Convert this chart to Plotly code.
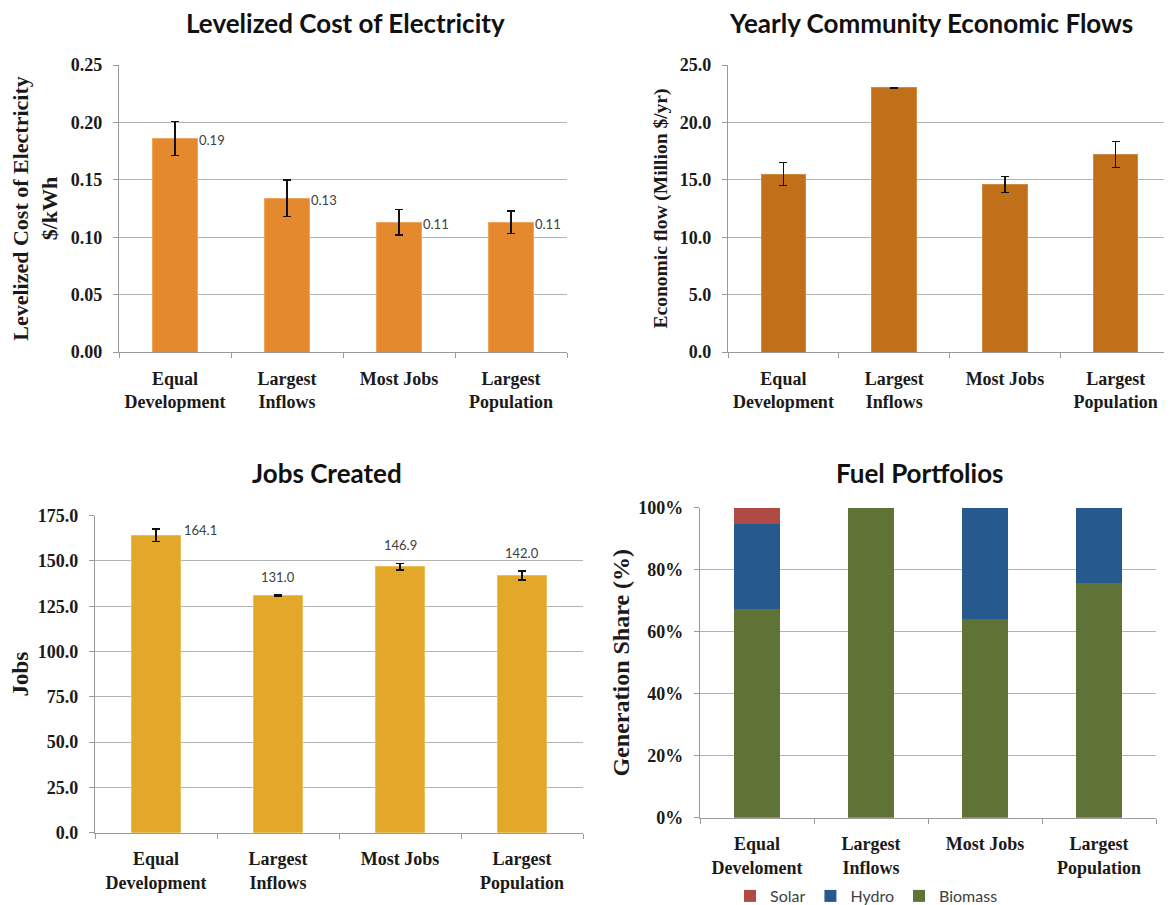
import plotly.graph_objects as go

# ---------------- data ----------------
categories = ["Equal Development", "Largest Inflows", "Most Jobs", "Largest Population"]
cat_text = ["Equal<br>Development", "Largest<br>Inflows", "Most Jobs", "Largest<br>Population"]
fuel_cat_text = ["Equal<br>Develoment", "Largest<br>Inflows", "Most Jobs", "Largest<br>Population"]

lcoe = [0.186, 0.134, 0.113, 0.113]
lcoe_err = [0.015, 0.016, 0.011, 0.010]

econ = [15.5, 23.0, 14.6, 17.2]
econ_err = [1.0, 0.05, 0.7, 1.15]

jobs = [164.1, 131.0, 146.9, 142.0]
jobs_err = [3.5, 0.3, 1.8, 2.4]

biomass = [0.672, 1.0, 0.64, 0.756]
hydro = [0.275, 0.0, 0.36, 0.244]
solar = [0.053, 0.0, 0.0, 0.0]

# page body has an 8px default margin: the figure is drawn inside it
OFF = 8
W, H = 1172 - OFF, 905 - OFF

SERIF = "Liberation Serif"
SANS = "Lato"
TXT = "#1a1a1a"
GRID = "#b3b3b3"
AXL = "#9a9a9a"


def px_x(a, b):
    return [(a - OFF) / W, (b - OFF) / W]


def px_y(top, bottom):
    return [1 - (bottom - OFF) / H, 1 - (top - OFF) / H]


fig = go.Figure()

err_style = dict(type="data", color="#111111", thickness=1.4, width=4, visible=True)

fig.add_trace(go.Bar(x=categories, y=lcoe, width=0.4, marker_color="#E5892F",
                     marker_line=dict(color="#EFA560", width=1),
                     error_y=dict(array=lcoe_err, **err_style),
                     xaxis="x", yaxis="y", showlegend=False))
fig.add_trace(go.Bar(x=categories, y=econ, width=0.4, marker_color="#C26F1A",
                     marker_line=dict(color="#D08A45", width=1),
                     error_y=dict(array=econ_err, **err_style),
                     xaxis="x2", yaxis="y2", showlegend=False))
fig.add_trace(go.Bar(x=categories, y=jobs, width=0.4, marker_color="#E3A82A",
                     marker_line=dict(color="#EDBE5C", width=1),
                     error_y=dict(array=jobs_err, **err_style),
                     xaxis="x3", yaxis="y3", showlegend=False))

fig.add_trace(go.Bar(x=categories, y=biomass, width=0.4, name="Biomass",
                     marker_color="#5E7335", marker_line=dict(width=0),
                     xaxis="x4", yaxis="y4"))
fig.add_trace(go.Bar(x=categories, y=hydro, width=0.4, name="Hydro",
                     marker_color="#265A8E", marker_line=dict(width=0),
                     xaxis="x4", yaxis="y4"))
fig.add_trace(go.Bar(x=categories, y=solar, width=0.4, name="Solar",
                     marker_color="#B04A44", marker_line=dict(width=0),
                     xaxis="x4", yaxis="y4"))

tickfont = dict(family=SERIF, size=18, color=TXT, weight="bold")


def xaxis(domain, anchor, texts):
    return dict(domain=domain, anchor=anchor, type="category",
                categoryorder="array", categoryarray=categories,
                tickvals=categories, ticktext=texts,
                tickson="boundaries", ticks="outside", ticklen=5, tickcolor=AXL,
                ticklabelstandoff=10,
                showline=True, linecolor=AXL, linewidth=1.2,
                showgrid=False, tickfont=tickfont, fixedrange=True, automargin=False)


def yaxis(domain, anchor, rng, dtick, fmt, title, tsize, standoff):
    return dict(domain=domain, anchor=anchor, range=rng, dtick=dtick, tickformat=fmt,
                ticks="outside", ticklen=5, tickcolor=AXL, ticklabelstandoff=7,
                showline=True, linecolor=AXL, linewidth=1.2,
                showgrid=True, gridcolor=GRID, gridwidth=1.2,
                zeroline=False, tickfont=tickfont, automargin=False,
                title=dict(text=title, standoff=standoff,
                           font=dict(family=SERIF, size=tsize, color=TXT, weight="bold")),
                fixedrange=True)


fig.update_layout(
    width=W, height=H,
    margin=dict(l=0, r=0, t=0, b=0, autoexpand=False),
    paper_bgcolor="white", plot_bgcolor="white",
    barmode="stack",
    xaxis=xaxis(px_x(119, 567), "y", cat_text),
    yaxis=yaxis(px_y(65, 352), "x", [0, 0.25], 0.05, ".2f",
                "Levelized Cost of Electricity<br>$/kWh", 22, 11),
    xaxis2=xaxis(px_x(728, 1171), "y2", cat_text),
    yaxis2=yaxis(px_y(65, 352), "x2", [0, 25], 5, ".1f",
                 "Economic flow (Million $/yr)", 19.5, 6),
    xaxis3=xaxis(px_x(95, 583), "y3", cat_text),
    yaxis3=yaxis(px_y(515.7, 832.7), "x3", [0, 175], 25, ".1f", "Jobs", 23, 5),
    xaxis4=xaxis(px_x(700, 1156), "y4", fuel_cat_text),
    yaxis4=yaxis(px_y(507.7, 817.7), "x4", [0, 1], 0.2, ".0%",
                 "Generation Share (%)", 24, 1),
    legend=dict(orientation="h", x=(730 - OFF) / W, xanchor="left",
                y=1 - (896 - OFF) / H, yanchor="middle",
                traceorder="reversed", font=dict(family=SANS, size=16, color="#404040"),
                entrywidth=0, itemwidth=30, bgcolor="rgba(0,0,0,0)"),
    showlegend=True,
)

# ---------------- titles ----------------
title_font = dict(family=SANS, size=26, color="#111111", weight="bold")
titles = [
    ("Levelized Cost of Electricity", 345, 23),
    ("Yearly Community Economic Flows", 931, 23),
    ("Jobs Created", 327, 473),
    ("Fuel Portfolios", 920, 473),
]
for text, cx, cy in titles:
    fig.add_annotation(text=text, x=(cx - OFF) / W, y=1 - (cy - OFF) / H,
                       xref="paper", yref="paper",
                       showarrow=False, font=title_font, xanchor="center", yanchor="middle")

# ---------------- data labels ----------------
label_font = dict(family=SANS, size=13, color="#404040")
for c, v in zip(categories, lcoe):
    fig.add_annotation(text=f"{v:.2f}", x=c, y=v, xref="x", yref="y", showarrow=False,
                       xanchor="left", yanchor="middle", xshift=22, yshift=-2, font=label_font)

for i, (c, v, e) in enumerate(zip(categories, jobs, jobs_err)):
    if i == 0:
        fig.add_annotation(text=f"{v:.1f}", x=c, y=v, xref="x3", yref="y3", showarrow=False,
                           xanchor="left", yanchor="middle", xshift=26, yshift=5, font=label_font)
    else:
        fig.add_annotation(text=f"{v:.1f}", x=c, y=v + e, xref="x3", yref="y3", showarrow=False,
                           xanchor="center", yanchor="bottom", yshift=8, font=label_font)

fig.write_html("out.html")
